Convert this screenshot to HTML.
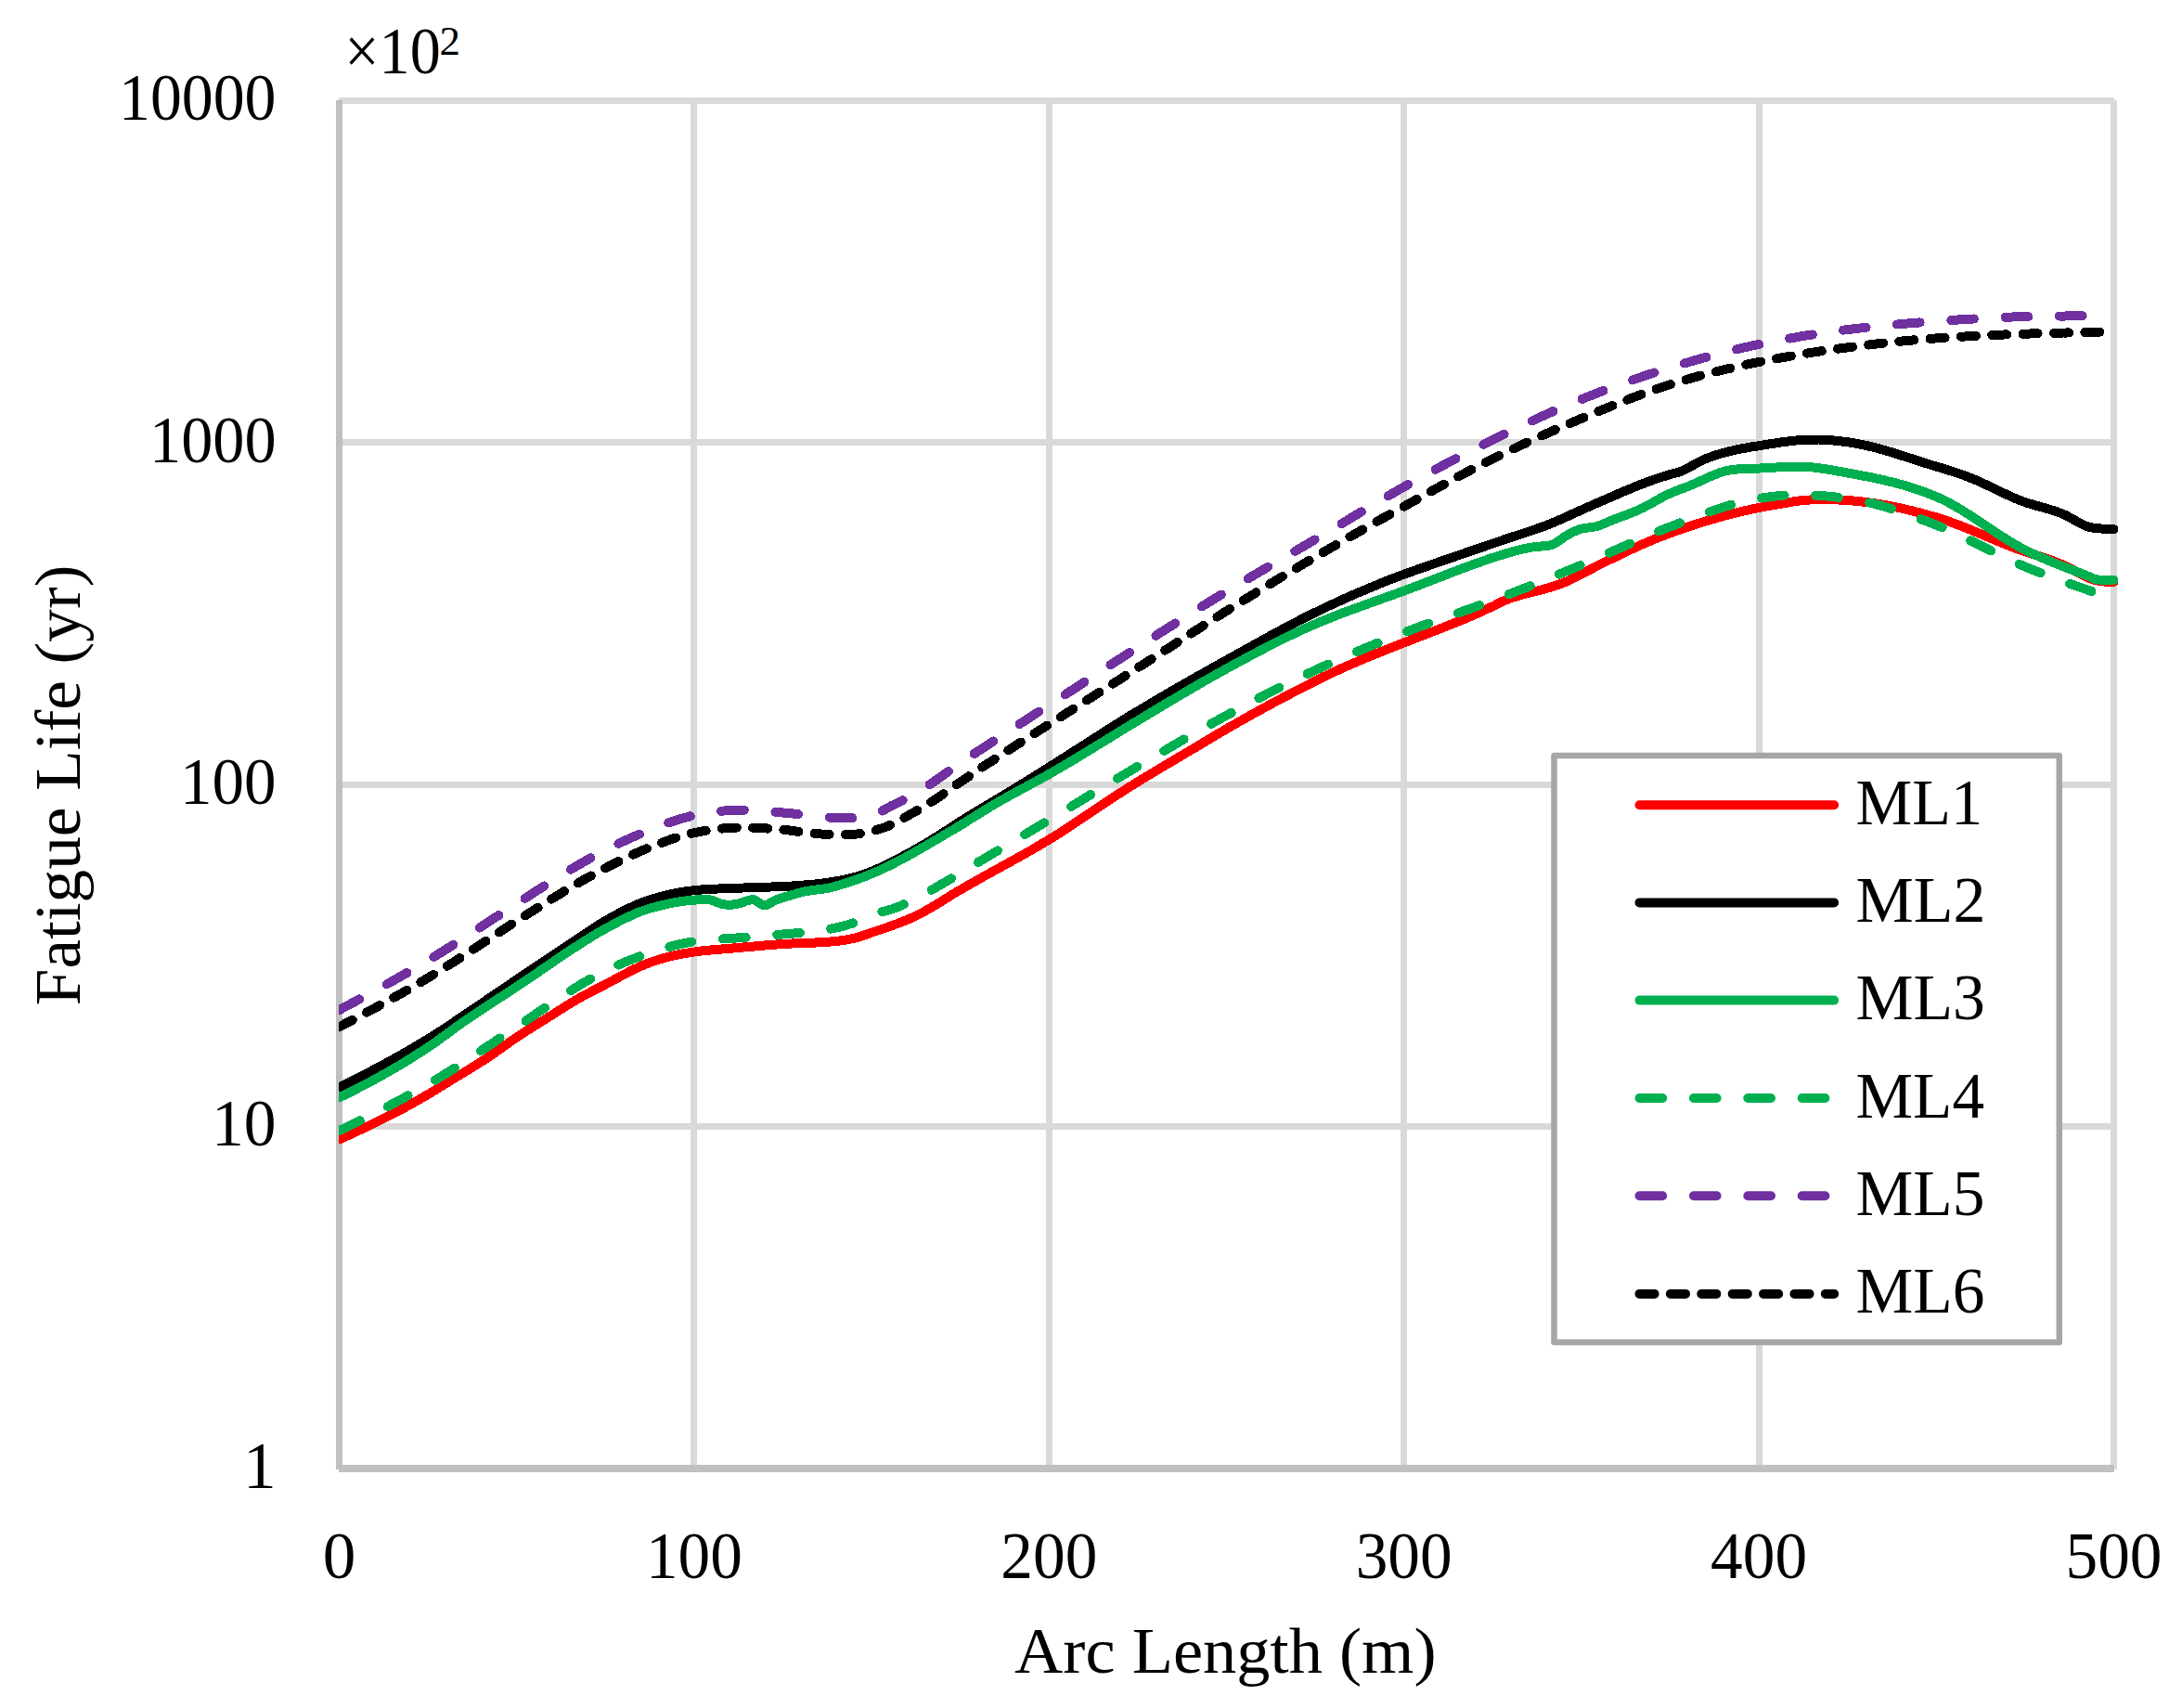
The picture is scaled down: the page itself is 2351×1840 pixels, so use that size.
<!DOCTYPE html>
<html lang="en"><head><meta charset="utf-8"><title>Fatigue Life vs Arc Length</title>
<style>html,body{margin:0;padding:0;background:#fff}body{width:2351px;height:1840px;overflow:hidden}svg{display:block}text{font-family:"Liberation Serif","Times New Roman",serif;fill:#000}</style>
</head><body>
<svg width="2351" height="1840" viewBox="0 0 2351 1840">
<rect width="2351" height="1840" fill="#fff"/>
<g fill="#d9d9d9" shape-rendering="crispEdges">
<rect x="365" y="105.0" width="1913.0" height="7"/>
<rect x="365" y="473.0" width="1913.0" height="7"/>
<rect x="365" y="842.0" width="1913.0" height="7"/>
<rect x="365" y="1210.0" width="1913.0" height="7"/>
<rect x="744.0" y="108" width="7" height="1475.0"/>
<rect x="1127.0" y="108" width="7" height="1475.0"/>
<rect x="1509.0" y="108" width="7" height="1475.0"/>
<rect x="1892.0" y="108" width="7" height="1475.0"/>
<rect x="2274.0" y="108" width="7" height="1475.0"/>
</g>
<g fill="#c0c0c0" shape-rendering="crispEdges">
<rect x="362" y="108" width="7" height="1475"/>
<rect x="365" y="1578" width="1913" height="8"/>
</g>
<defs><clipPath id="pc"><rect x="365" y="100" width="1930" height="1490"/></clipPath></defs>
<g clip-path="url(#pc)" fill="none" stroke-width="10.0" stroke-linecap="round" stroke-linejoin="round" shape-rendering="crispEdges">
<path stroke="#ff0000" d="M365.5 1227.4L368.5 1226.1L371.5 1224.7L374.5 1223.4L377.5 1222.0L380.5 1220.6L383.5 1219.2L386.5 1217.9L389.5 1216.5L392.5 1215.0L395.5 1213.6L398.5 1212.2L401.5 1210.7L404.5 1209.3L407.5 1207.8L410.5 1206.3L413.5 1204.9L416.5 1203.3L419.5 1201.8L422.5 1200.3L425.5 1198.8L428.5 1197.2L431.5 1195.6L434.5 1194.0L437.5 1192.4L440.5 1190.8L443.5 1189.1L446.5 1187.4L449.5 1185.7L452.5 1184.0L455.5 1182.3L458.5 1180.5L461.6 1178.7L464.6 1176.9L467.6 1175.1L470.6 1173.2L473.6 1171.3L476.6 1169.5L479.6 1167.7L482.6 1165.8L485.6 1164.0L488.6 1162.2L491.6 1160.4L494.6 1158.5L497.6 1156.7L500.6 1154.9L503.6 1153.1L506.6 1151.2L509.6 1149.4L512.6 1147.5L515.6 1145.6L518.6 1143.7L521.6 1141.8L524.6 1139.8L527.6 1137.8L530.6 1135.8L533.6 1133.8L536.6 1131.7L539.6 1129.5L542.6 1127.4L545.6 1125.3L548.6 1123.1L551.6 1121.0L554.6 1118.9L557.6 1116.9L560.6 1114.9L563.6 1113.0L566.6 1111.0L569.6 1109.1L572.6 1107.2L575.6 1105.4L578.6 1103.5L581.6 1101.6L584.6 1099.7L587.6 1097.9L590.6 1096.0L593.6 1094.1L596.6 1092.2L599.6 1090.3L602.6 1088.4L605.6 1086.5L608.6 1084.6L611.6 1082.8L614.6 1080.9L617.6 1079.1L620.6 1077.3L623.6 1075.6L626.6 1073.9L629.6 1072.3L632.6 1070.7L635.6 1069.1L638.6 1067.5L641.6 1066.0L644.6 1064.4L647.6 1062.9L650.6 1061.4L653.7 1059.8L656.7 1058.2L659.7 1056.6L662.7 1055.0L665.7 1053.4L668.7 1051.8L671.7 1050.2L674.7 1048.6L677.7 1047.0L680.7 1045.5L683.7 1044.0L686.7 1042.6L689.7 1041.2L692.7 1039.9L695.7 1038.7L698.7 1037.5L701.7 1036.4L704.7 1035.4L707.7 1034.5L710.7 1033.5L713.7 1032.6L716.7 1031.8L719.7 1031.0L722.7 1030.2L725.7 1029.5L728.7 1028.9L731.7 1028.2L734.7 1027.6L737.7 1027.1L740.7 1026.6L743.7 1026.1L746.7 1025.7L749.7 1025.3L752.7 1024.9L755.7 1024.5L758.7 1024.2L761.7 1023.9L764.7 1023.6L767.7 1023.3L770.7 1023.1L773.7 1022.8L776.7 1022.6L779.7 1022.3L782.7 1022.1L785.7 1021.8L788.7 1021.6L791.7 1021.3L794.7 1021.1L797.7 1020.8L800.7 1020.5L803.7 1020.3L806.7 1020.0L809.7 1019.7L812.7 1019.5L815.7 1019.2L818.7 1018.9L821.7 1018.7L824.7 1018.4L827.7 1018.2L830.7 1017.9L833.7 1017.7L836.7 1017.5L839.7 1017.2L842.7 1017.0L845.8 1016.9L848.8 1016.7L851.8 1016.6L854.8 1016.4L857.8 1016.3L860.8 1016.2L863.8 1016.1L866.8 1016.0L869.8 1015.9L872.8 1015.7L875.8 1015.6L878.8 1015.5L881.8 1015.3L884.8 1015.2L887.8 1015.0L890.8 1014.8L893.8 1014.6L896.8 1014.3L899.8 1014.0L902.8 1013.7L905.8 1013.3L908.8 1012.9L911.8 1012.4L914.8 1011.9L917.8 1011.3L920.8 1010.7L923.8 1010.0L926.8 1009.0L929.8 1008.0L932.8 1007.0L935.8 1005.9L938.8 1004.8L941.8 1003.8L944.8 1002.8L947.8 1001.7L950.8 1000.7L953.8 999.7L956.8 998.7L959.8 997.6L962.8 996.5L965.8 995.4L968.8 994.3L971.8 993.1L974.8 991.9L977.8 990.7L980.8 989.4L983.8 988.0L986.8 986.6L989.8 985.1L992.8 983.6L995.8 982.0L998.8 980.3L1001.8 978.6L1004.8 976.8L1007.8 975.0L1010.8 973.2L1013.8 971.4L1016.8 969.5L1019.8 967.7L1022.8 965.8L1025.8 963.9L1028.8 962.1L1031.8 960.3L1034.9 958.5L1037.9 956.8L1040.9 955.0L1043.9 953.3L1046.9 951.6L1049.9 949.9L1052.9 948.2L1055.9 946.5L1058.9 944.8L1061.9 943.1L1064.9 941.5L1067.9 939.8L1070.9 938.2L1073.9 936.5L1076.9 934.9L1079.9 933.2L1082.9 931.6L1085.9 929.9L1088.9 928.3L1091.9 926.6L1094.9 924.9L1097.9 923.3L1100.9 921.6L1103.9 919.9L1106.9 918.2L1109.9 916.5L1112.9 914.8L1115.9 913.0L1118.9 911.3L1121.9 909.5L1124.9 907.7L1127.9 906.0L1130.9 904.1L1133.9 902.3L1136.9 900.4L1139.9 898.6L1142.9 896.7L1145.9 894.7L1148.9 892.8L1151.9 890.9L1154.9 888.9L1157.9 886.9L1160.9 884.9L1163.9 882.9L1166.9 880.9L1169.9 878.9L1172.9 876.9L1175.9 874.9L1178.9 872.9L1181.9 870.9L1184.9 868.9L1187.9 866.9L1190.9 864.9L1193.9 862.9L1196.9 860.9L1199.9 858.9L1202.9 856.9L1205.9 854.9L1208.9 853.0L1211.9 851.0L1214.9 849.1L1217.9 847.2L1220.9 845.3L1223.9 843.4L1227.0 841.6L1230.0 839.7L1233.0 837.9L1236.0 836.1L1239.0 834.3L1242.0 832.5L1245.0 830.7L1248.0 828.9L1251.0 827.1L1254.0 825.3L1257.0 823.5L1260.0 821.8L1263.0 820.0L1266.0 818.2L1269.0 816.4L1272.0 814.7L1275.0 812.9L1278.0 811.1L1281.0 809.3L1284.0 807.5L1287.0 805.8L1290.0 804.0L1293.0 802.2L1296.0 800.4L1299.0 798.6L1302.0 796.8L1305.0 795.0L1308.0 793.2L1311.0 791.4L1314.0 789.7L1317.0 787.9L1320.0 786.2L1323.0 784.4L1326.0 782.7L1329.0 781.0L1332.0 779.3L1335.0 777.6L1338.0 775.9L1341.0 774.2L1344.0 772.5L1347.0 770.8L1350.0 769.1L1353.0 767.5L1356.0 765.8L1359.0 764.2L1362.0 762.6L1365.0 760.9L1368.0 759.3L1371.0 757.7L1374.0 756.1L1377.0 754.5L1380.0 752.9L1383.0 751.3L1386.0 749.8L1389.0 748.2L1392.0 746.6L1395.0 745.1L1398.0 743.5L1401.0 742.0L1404.0 740.4L1407.0 738.9L1410.0 737.4L1413.0 735.8L1416.0 734.3L1419.1 732.8L1422.1 731.3L1425.1 729.8L1428.1 728.3L1431.1 726.9L1434.1 725.4L1437.1 724.0L1440.1 722.6L1443.1 721.2L1446.1 719.8L1449.1 718.5L1452.1 717.2L1455.1 715.9L1458.1 714.6L1461.1 713.3L1464.1 712.0L1467.1 710.7L1470.1 709.5L1473.1 708.2L1476.1 707.0L1479.1 705.8L1482.1 704.6L1485.1 703.3L1488.1 702.1L1491.1 700.9L1494.1 699.8L1497.1 698.6L1500.1 697.4L1503.1 696.2L1506.1 695.0L1509.1 693.8L1512.1 692.6L1515.1 691.5L1518.1 690.3L1521.1 689.1L1524.1 687.9L1527.1 686.8L1530.1 685.6L1533.1 684.5L1536.1 683.3L1539.1 682.2L1542.1 681.0L1545.1 679.9L1548.1 678.7L1551.1 677.5L1554.1 676.4L1557.1 675.2L1560.1 674.0L1563.1 672.8L1566.1 671.6L1569.1 670.4L1572.1 669.2L1575.1 668.0L1578.1 666.7L1581.1 665.4L1584.1 664.2L1587.1 662.9L1590.1 661.6L1593.1 660.2L1596.1 658.9L1599.1 657.5L1602.1 656.1L1605.1 654.7L1608.1 653.3L1611.2 651.8L1614.2 650.2L1617.2 648.7L1620.2 647.3L1623.2 646.1L1626.2 645.0L1629.2 644.0L1632.2 643.0L1635.2 642.1L1638.2 641.2L1641.2 640.4L1644.2 639.6L1647.2 638.9L1650.2 638.1L1653.2 637.4L1656.2 636.6L1659.2 635.8L1662.2 635.0L1665.2 634.2L1668.2 633.3L1671.2 632.4L1674.2 631.5L1677.2 630.5L1680.2 629.4L1683.2 628.3L1686.2 627.1L1689.2 625.8L1692.2 624.4L1695.2 622.9L1698.2 621.3L1701.2 619.7L1704.2 618.1L1707.2 616.6L1710.2 615.1L1713.2 613.6L1716.2 612.1L1719.2 610.5L1722.2 609.0L1725.2 607.5L1728.2 606.0L1731.2 604.5L1734.2 603.0L1737.2 601.6L1740.2 600.1L1743.2 598.6L1746.2 597.2L1749.2 595.8L1752.2 594.3L1755.2 592.9L1758.2 591.5L1761.2 590.2L1764.2 588.8L1767.2 587.5L1770.2 586.1L1773.2 584.8L1776.2 583.5L1779.2 582.3L1782.2 581.0L1785.2 579.8L1788.2 578.6L1791.2 577.4L1794.2 576.3L1797.2 575.1L1800.3 574.0L1803.3 572.9L1806.3 571.9L1809.3 570.8L1812.3 569.8L1815.3 568.7L1818.3 567.7L1821.3 566.7L1824.3 565.7L1827.3 564.8L1830.3 563.8L1833.3 562.9L1836.3 561.9L1839.3 561.0L1842.3 560.1L1845.3 559.2L1848.3 558.4L1851.3 557.5L1854.3 556.7L1857.3 555.9L1860.3 555.1L1863.3 554.3L1866.3 553.5L1869.3 552.8L1872.3 552.0L1875.3 551.3L1878.3 550.6L1881.3 549.9L1884.3 549.3L1887.3 548.6L1890.3 548.0L1893.3 547.4L1896.3 546.8L1899.3 546.2L1902.3 545.6L1905.3 545.1L1908.3 544.6L1911.3 544.1L1914.3 543.6L1917.3 543.0L1920.3 542.5L1923.3 542.0L1926.3 541.5L1929.3 540.9L1932.3 540.4L1935.3 539.9L1938.3 539.5L1941.3 539.1L1944.3 538.8L1947.3 538.6L1950.3 538.5L1953.3 538.4L1956.3 538.3L1959.3 538.2L1962.3 538.2L1965.3 538.2L1968.3 538.2L1971.3 538.2L1974.3 538.3L1977.3 538.4L1980.3 538.5L1983.3 538.6L1986.3 538.8L1989.3 539.0L1992.4 539.2L1995.4 539.4L1998.4 539.7L2001.4 540.0L2004.4 540.3L2007.4 540.6L2010.4 541.0L2013.4 541.4L2016.4 541.8L2019.4 542.2L2022.4 542.7L2025.4 543.2L2028.4 543.7L2031.4 544.2L2034.4 544.7L2037.4 545.3L2040.4 545.9L2043.4 546.5L2046.4 547.1L2049.4 547.8L2052.4 548.5L2055.4 549.2L2058.4 549.9L2061.4 550.6L2064.4 551.4L2067.4 552.1L2070.4 552.9L2073.4 553.7L2076.4 554.6L2079.4 555.4L2082.4 556.3L2085.4 557.1L2088.4 558.0L2091.4 559.0L2094.4 559.9L2097.4 560.9L2100.4 562.0L2103.4 563.1L2106.4 564.2L2109.4 565.3L2112.4 566.4L2115.4 567.6L2118.4 568.8L2121.4 570.0L2124.4 571.2L2127.4 572.5L2130.4 573.7L2133.4 574.9L2136.4 576.2L2139.4 577.5L2142.4 578.7L2145.4 580.0L2148.4 581.2L2151.4 582.5L2154.4 583.7L2157.4 585.0L2160.4 586.2L2163.4 587.4L2166.4 588.6L2169.4 589.7L2172.4 590.9L2175.4 592.0L2178.4 593.1L2181.4 594.1L2184.5 595.2L2187.5 596.2L2190.5 597.1L2193.5 598.1L2196.5 599.1L2199.5 600.0L2202.5 601.0L2205.5 602.0L2208.5 603.0L2211.5 604.1L2214.5 605.2L2217.5 606.3L2220.5 607.6L2223.5 608.9L2226.5 610.3L2229.5 611.8L2232.5 613.4L2235.5 615.0L2238.5 616.7L2241.5 618.2L2244.5 619.7L2247.5 621.1L2250.5 622.5L2253.5 623.8L2256.5 624.7L2259.5 625.4L2262.5 625.9L2265.5 626.3L2268.5 626.6L2271.5 626.8L2274.5 626.9L2277.5 626.9"/>
<path stroke="#000000" d="M365.5 1171.3L368.5 1169.8L371.5 1168.4L374.5 1166.9L377.5 1165.4L380.5 1163.9L383.5 1162.4L386.5 1160.9L389.5 1159.3L392.5 1157.8L395.5 1156.3L398.5 1154.7L401.5 1153.1L404.5 1151.5L407.5 1149.9L410.5 1148.3L413.5 1146.7L416.5 1145.1L419.5 1143.4L422.5 1141.8L425.5 1140.1L428.5 1138.4L431.5 1136.7L434.5 1135.0L437.5 1133.3L440.5 1131.6L443.5 1129.8L446.5 1128.0L449.5 1126.3L452.5 1124.5L455.5 1122.7L458.5 1120.9L461.6 1119.0L464.6 1117.2L467.6 1115.3L470.6 1113.4L473.6 1111.4L476.6 1109.5L479.6 1107.5L482.6 1105.5L485.6 1103.5L488.6 1101.5L491.6 1099.4L494.6 1097.4L497.6 1095.4L500.6 1093.4L503.6 1091.4L506.6 1089.3L509.6 1087.3L512.6 1085.3L515.6 1083.2L518.6 1081.2L521.6 1079.2L524.6 1077.1L527.6 1075.1L530.6 1073.0L533.6 1071.0L536.6 1068.9L539.6 1066.9L542.6 1064.9L545.6 1062.8L548.6 1060.8L551.6 1058.8L554.6 1056.7L557.6 1054.7L560.6 1052.7L563.6 1050.7L566.6 1048.7L569.6 1046.7L572.6 1044.6L575.6 1042.6L578.6 1040.6L581.6 1038.6L584.6 1036.6L587.6 1034.6L590.6 1032.6L593.6 1030.6L596.6 1028.6L599.6 1026.7L602.6 1024.7L605.6 1022.7L608.6 1020.7L611.6 1018.7L614.6 1016.7L617.6 1014.7L620.6 1012.7L623.6 1010.7L626.6 1008.6L629.6 1006.6L632.6 1004.5L635.6 1002.5L638.6 1000.5L641.6 998.6L644.6 996.6L647.6 994.8L650.6 993.0L653.7 991.2L656.7 989.5L659.7 987.8L662.7 986.2L665.7 984.5L668.7 982.9L671.7 981.4L674.7 979.9L677.7 978.4L680.7 977.0L683.7 975.7L686.7 974.4L689.7 973.1L692.7 972.0L695.7 970.9L698.7 969.9L701.7 968.9L704.7 968.0L707.7 967.1L710.7 966.3L713.7 965.5L716.7 964.7L719.7 964.0L722.7 963.3L725.7 962.6L728.7 962.0L731.7 961.5L734.7 960.9L737.7 960.5L740.7 960.0L743.7 959.7L746.7 959.3L749.7 959.0L752.7 958.8L755.7 958.5L758.7 958.3L761.7 958.1L764.7 957.9L767.7 957.8L770.7 957.6L773.7 957.5L776.7 957.4L779.7 957.3L782.7 957.2L785.7 957.0L788.7 956.9L791.7 956.8L794.7 956.7L797.7 956.6L800.7 956.5L803.7 956.4L806.7 956.3L809.7 956.2L812.7 956.1L815.7 956.0L818.7 956.0L821.7 955.9L824.7 955.8L827.7 955.6L830.7 955.5L833.7 955.4L836.7 955.3L839.7 955.2L842.7 955.0L845.8 954.9L848.8 954.7L851.8 954.6L854.8 954.4L857.8 954.2L860.8 954.0L863.8 953.8L866.8 953.5L869.8 953.3L872.8 953.0L875.8 952.7L878.8 952.4L881.8 952.0L884.8 951.7L887.8 951.3L890.8 950.9L893.8 950.4L896.8 950.0L899.8 949.5L902.8 948.9L905.8 948.4L908.8 947.8L911.8 947.2L914.8 946.5L917.8 945.8L920.8 945.1L923.8 944.3L926.8 943.3L929.8 942.3L932.8 941.2L935.8 940.0L938.8 938.8L941.8 937.6L944.8 936.3L947.8 935.0L950.8 933.6L953.8 932.1L956.8 930.7L959.8 929.2L962.8 927.7L965.8 926.2L968.8 924.6L971.8 923.0L974.8 921.4L977.8 919.7L980.8 918.1L983.8 916.4L986.8 914.8L989.8 913.0L992.8 911.3L995.8 909.6L998.8 907.8L1001.8 906.0L1004.8 904.2L1007.8 902.3L1010.8 900.4L1013.8 898.5L1016.8 896.6L1019.8 894.7L1022.8 892.8L1025.8 890.8L1028.8 888.8L1031.8 886.8L1034.9 884.9L1037.9 883.0L1040.9 881.1L1043.9 879.3L1046.9 877.5L1049.9 875.7L1052.9 873.9L1055.9 872.1L1058.9 870.3L1061.9 868.5L1064.9 866.7L1067.9 864.9L1070.9 863.1L1073.9 861.3L1076.9 859.5L1079.9 857.7L1082.9 855.8L1085.9 854.0L1088.9 852.2L1091.9 850.3L1094.9 848.5L1097.9 846.7L1100.9 844.8L1103.9 843.0L1106.9 841.1L1109.9 839.2L1112.9 837.4L1115.9 835.5L1118.9 833.6L1121.9 831.8L1124.9 829.9L1127.9 828.0L1130.9 826.1L1133.9 824.2L1136.9 822.3L1139.9 820.4L1142.9 818.5L1145.9 816.6L1148.9 814.7L1151.9 812.8L1154.9 810.9L1157.9 808.9L1160.9 807.0L1163.9 805.1L1166.9 803.2L1169.9 801.3L1172.9 799.3L1175.9 797.4L1178.9 795.5L1181.9 793.6L1184.9 791.7L1187.9 789.7L1190.9 787.8L1193.9 785.9L1196.9 784.0L1199.9 782.1L1202.9 780.3L1205.9 778.4L1208.9 776.5L1211.9 774.6L1214.9 772.8L1217.9 770.9L1220.9 769.1L1223.9 767.3L1227.0 765.5L1230.0 763.7L1233.0 761.9L1236.0 760.1L1239.0 758.3L1242.0 756.5L1245.0 754.7L1248.0 753.0L1251.0 751.2L1254.0 749.5L1257.0 747.7L1260.0 746.0L1263.0 744.2L1266.0 742.5L1269.0 740.8L1272.0 739.1L1275.0 737.4L1278.0 735.6L1281.0 733.9L1284.0 732.2L1287.0 730.5L1290.0 728.8L1293.0 727.2L1296.0 725.5L1299.0 723.8L1302.0 722.1L1305.0 720.4L1308.0 718.7L1311.0 717.1L1314.0 715.4L1317.0 713.7L1320.0 712.0L1323.0 710.4L1326.0 708.7L1329.0 707.0L1332.0 705.3L1335.0 703.7L1338.0 702.0L1341.0 700.3L1344.0 698.6L1347.0 697.0L1350.0 695.3L1353.0 693.6L1356.0 692.0L1359.0 690.3L1362.0 688.7L1365.0 687.0L1368.0 685.4L1371.0 683.7L1374.0 682.1L1377.0 680.5L1380.0 678.9L1383.0 677.2L1386.0 675.7L1389.0 674.1L1392.0 672.5L1395.0 670.9L1398.0 669.4L1401.0 667.8L1404.0 666.3L1407.0 664.8L1410.0 663.3L1413.0 661.8L1416.0 660.3L1419.1 658.9L1422.1 657.4L1425.1 656.0L1428.1 654.5L1431.1 653.1L1434.1 651.7L1437.1 650.3L1440.1 648.9L1443.1 647.6L1446.1 646.2L1449.1 644.8L1452.1 643.5L1455.1 642.2L1458.1 640.8L1461.1 639.5L1464.1 638.2L1467.1 636.9L1470.1 635.7L1473.1 634.4L1476.1 633.1L1479.1 631.9L1482.1 630.7L1485.1 629.4L1488.1 628.2L1491.1 627.0L1494.1 625.8L1497.1 624.6L1500.1 623.5L1503.1 622.3L1506.1 621.2L1509.1 620.0L1512.1 618.9L1515.1 617.8L1518.1 616.8L1521.1 615.7L1524.1 614.6L1527.1 613.6L1530.1 612.5L1533.1 611.5L1536.1 610.4L1539.1 609.4L1542.1 608.3L1545.1 607.3L1548.1 606.3L1551.1 605.2L1554.1 604.2L1557.1 603.1L1560.1 602.1L1563.1 601.1L1566.1 600.1L1569.1 599.0L1572.1 598.0L1575.1 597.0L1578.1 595.9L1581.1 594.9L1584.1 593.9L1587.1 592.9L1590.1 591.8L1593.1 590.8L1596.1 589.8L1599.1 588.7L1602.1 587.7L1605.1 586.7L1608.1 585.7L1611.2 584.6L1614.2 583.6L1617.2 582.6L1620.2 581.5L1623.2 580.5L1626.2 579.5L1629.2 578.5L1632.2 577.6L1635.2 576.6L1638.2 575.6L1641.2 574.6L1644.2 573.6L1647.2 572.6L1650.2 571.6L1653.2 570.6L1656.2 569.5L1659.2 568.5L1662.2 567.4L1665.2 566.3L1668.2 565.1L1671.2 563.9L1674.2 562.7L1677.2 561.4L1680.2 560.1L1683.2 558.8L1686.2 557.5L1689.2 556.1L1692.2 554.7L1695.2 553.3L1698.2 552.0L1701.2 550.6L1704.2 549.3L1707.2 547.9L1710.2 546.6L1713.2 545.3L1716.2 543.9L1719.2 542.6L1722.2 541.3L1725.2 540.0L1728.2 538.7L1731.2 537.4L1734.2 536.1L1737.2 534.8L1740.2 533.5L1743.2 532.2L1746.2 530.9L1749.2 529.6L1752.2 528.4L1755.2 527.1L1758.2 525.9L1761.2 524.6L1764.2 523.4L1767.2 522.2L1770.2 521.1L1773.2 519.9L1776.2 518.8L1779.2 517.7L1782.2 516.6L1785.2 515.6L1788.2 514.6L1791.2 513.6L1794.2 512.7L1797.2 511.8L1800.3 510.9L1803.3 510.1L1806.3 509.3L1809.3 508.4L1812.3 507.3L1815.3 505.9L1818.3 504.4L1821.3 502.8L1824.3 501.1L1827.3 499.4L1830.3 497.8L1833.3 496.3L1836.3 495.0L1839.3 493.7L1842.3 492.6L1845.3 491.5L1848.3 490.5L1851.3 489.5L1854.3 488.6L1857.3 487.8L1860.3 487.0L1863.3 486.2L1866.3 485.5L1869.3 484.8L1872.3 484.2L1875.3 483.6L1878.3 483.0L1881.3 482.5L1884.3 481.9L1887.3 481.4L1890.3 481.0L1893.3 480.5L1896.3 480.0L1899.3 479.5L1902.3 479.1L1905.3 478.6L1908.3 478.1L1911.3 477.7L1914.3 477.2L1917.3 476.7L1920.3 476.3L1923.3 475.9L1926.3 475.5L1929.3 475.1L1932.3 474.8L1935.3 474.5L1938.3 474.2L1941.3 474.0L1944.3 473.8L1947.3 473.6L1950.3 473.5L1953.3 473.5L1956.3 473.5L1959.3 473.5L1962.3 473.6L1965.3 473.8L1968.3 474.0L1971.3 474.2L1974.3 474.4L1977.3 474.7L1980.3 475.0L1983.3 475.4L1986.3 475.7L1989.3 476.1L1992.4 476.5L1995.4 477.0L1998.4 477.5L2001.4 478.0L2004.4 478.6L2007.4 479.2L2010.4 479.9L2013.4 480.6L2016.4 481.3L2019.4 482.1L2022.4 482.8L2025.4 483.6L2028.4 484.5L2031.4 485.3L2034.4 486.2L2037.4 487.1L2040.4 488.0L2043.4 489.0L2046.4 489.9L2049.4 490.9L2052.4 491.8L2055.4 492.8L2058.4 493.7L2061.4 494.7L2064.4 495.7L2067.4 496.7L2070.4 497.6L2073.4 498.6L2076.4 499.5L2079.4 500.5L2082.4 501.4L2085.4 502.3L2088.4 503.2L2091.4 504.1L2094.4 505.0L2097.4 505.9L2100.4 506.9L2103.4 507.8L2106.4 508.8L2109.4 509.7L2112.4 510.8L2115.4 511.8L2118.4 512.9L2121.4 514.1L2124.4 515.3L2127.4 516.5L2130.4 517.8L2133.4 519.2L2136.4 520.6L2139.4 522.0L2142.4 523.4L2145.4 524.8L2148.4 526.3L2151.4 527.7L2154.4 529.2L2157.4 530.6L2160.4 532.0L2163.4 533.4L2166.4 534.8L2169.4 536.1L2172.4 537.4L2175.4 538.6L2178.4 539.7L2181.4 540.8L2184.5 541.9L2187.5 542.8L2190.5 543.7L2193.5 544.6L2196.5 545.4L2199.5 546.3L2202.5 547.1L2205.5 548.0L2208.5 548.8L2211.5 549.8L2214.5 550.7L2217.5 551.8L2220.5 552.9L2223.5 554.2L2226.5 555.5L2229.5 557.1L2232.5 558.8L2235.5 560.5L2238.5 562.3L2241.5 563.9L2244.5 565.4L2247.5 566.7L2250.5 567.6L2253.5 568.3L2256.5 568.8L2259.5 569.1L2262.5 569.4L2265.5 569.6L2268.5 569.8L2271.5 570.0L2274.5 570.1L2277.5 570.2"/>
<path stroke="#00b050" d="M365.5 1182.4L368.5 1180.9L371.5 1179.5L374.5 1178.0L377.5 1176.5L380.5 1175.0L383.5 1173.5L386.5 1171.9L389.5 1170.4L392.5 1168.8L395.5 1167.3L398.5 1165.7L401.5 1164.0L404.5 1162.4L407.5 1160.8L410.5 1159.1L413.5 1157.4L416.5 1155.7L419.5 1154.0L422.5 1152.3L425.5 1150.5L428.5 1148.8L431.5 1147.0L434.5 1145.2L437.5 1143.3L440.5 1141.5L443.5 1139.6L446.5 1137.7L449.5 1135.8L452.5 1133.9L455.5 1132.0L458.5 1130.0L461.6 1128.0L464.6 1126.0L467.6 1123.9L470.6 1121.8L473.6 1119.6L476.6 1117.4L479.6 1115.2L482.6 1113.0L485.6 1110.8L488.6 1108.6L491.6 1106.4L494.6 1104.2L497.6 1102.1L500.6 1100.0L503.6 1097.9L506.6 1095.8L509.6 1093.8L512.6 1091.8L515.6 1089.8L518.6 1087.8L521.6 1085.8L524.6 1083.9L527.6 1081.9L530.6 1080.0L533.6 1078.0L536.6 1076.1L539.6 1074.1L542.6 1072.2L545.6 1070.3L548.6 1068.3L551.6 1066.3L554.6 1064.4L557.6 1062.4L560.6 1060.4L563.6 1058.4L566.6 1056.4L569.6 1054.3L572.6 1052.3L575.6 1050.2L578.6 1048.2L581.6 1046.1L584.6 1044.0L587.6 1042.0L590.6 1039.9L593.6 1037.8L596.6 1035.8L599.6 1033.7L602.6 1031.7L605.6 1029.7L608.6 1027.7L611.6 1025.7L614.6 1023.7L617.6 1021.7L620.6 1019.8L623.6 1017.9L626.6 1015.9L629.6 1014.0L632.6 1012.1L635.6 1010.3L638.6 1008.4L641.6 1006.6L644.6 1004.8L647.6 1003.1L650.6 1001.4L653.7 999.8L656.7 998.1L659.7 996.5L662.7 994.9L665.7 993.3L668.7 991.8L671.7 990.3L674.7 988.8L677.7 987.4L680.7 986.0L683.7 984.7L686.7 983.4L689.7 982.2L692.7 981.1L695.7 980.1L698.7 979.1L701.7 978.2L704.7 977.4L707.7 976.6L710.7 975.8L713.7 975.1L716.7 974.4L719.7 973.7L722.7 973.1L725.7 972.5L728.7 972.0L731.7 971.5L734.7 971.0L737.7 970.6L740.7 970.3L743.7 970.0L746.7 969.7L749.7 969.5L752.7 969.3L755.7 969.1L758.7 969.1L761.7 969.2L764.7 969.4L767.7 970.1L770.7 971.2L773.7 972.5L776.7 973.6L779.7 974.3L782.7 974.6L785.7 974.7L788.7 974.6L791.7 974.3L794.7 973.8L797.7 973.0L800.7 971.9L803.7 970.8L806.7 969.8L809.7 969.2L812.7 969.4L815.7 971.0L818.7 973.2L821.7 975.0L824.7 975.3L827.7 974.2L830.7 972.4L833.7 970.7L836.7 969.3L839.7 968.2L842.7 967.2L845.8 966.3L848.8 965.4L851.8 964.5L854.8 963.6L857.8 962.8L860.8 961.9L863.8 961.2L866.8 960.5L869.8 959.9L872.8 959.4L875.8 959.0L878.8 958.6L881.8 958.3L884.8 957.9L887.8 957.5L890.8 957.0L893.8 956.4L896.8 955.7L899.8 954.9L902.8 954.0L905.8 953.1L908.8 952.2L911.8 951.2L914.8 950.2L917.8 949.2L920.8 948.2L923.8 947.2L926.8 946.1L929.8 945.0L932.8 943.8L935.8 942.6L938.8 941.4L941.8 940.2L944.8 938.9L947.8 937.5L950.8 936.1L953.8 934.7L956.8 933.3L959.8 931.8L962.8 930.3L965.8 928.7L968.8 927.2L971.8 925.6L974.8 924.0L977.8 922.3L980.8 920.7L983.8 919.0L986.8 917.3L989.8 915.6L992.8 913.9L995.8 912.1L998.8 910.4L1001.8 908.6L1004.8 906.9L1007.8 905.1L1010.8 903.4L1013.8 901.6L1016.8 899.9L1019.8 898.1L1022.8 896.3L1025.8 894.6L1028.8 892.8L1031.8 890.9L1034.9 889.1L1037.9 887.3L1040.9 885.4L1043.9 883.5L1046.9 881.6L1049.9 879.8L1052.9 877.9L1055.9 876.0L1058.9 874.1L1061.9 872.3L1064.9 870.4L1067.9 868.6L1070.9 866.8L1073.9 865.1L1076.9 863.3L1079.9 861.6L1082.9 859.9L1085.9 858.3L1088.9 856.6L1091.9 855.0L1094.9 853.3L1097.9 851.7L1100.9 850.1L1103.9 848.5L1106.9 846.8L1109.9 845.2L1112.9 843.6L1115.9 842.0L1118.9 840.3L1121.9 838.7L1124.9 837.0L1127.9 835.4L1130.9 833.7L1133.9 832.0L1136.9 830.2L1139.9 828.5L1142.9 826.7L1145.9 825.0L1148.9 823.2L1151.9 821.4L1154.9 819.7L1157.9 817.9L1160.9 816.1L1163.9 814.2L1166.9 812.4L1169.9 810.6L1172.9 808.8L1175.9 806.9L1178.9 805.1L1181.9 803.2L1184.9 801.4L1187.9 799.6L1190.9 797.7L1193.9 795.9L1196.9 794.0L1199.9 792.2L1202.9 790.3L1205.9 788.5L1208.9 786.6L1211.9 784.8L1214.9 783.0L1217.9 781.1L1220.9 779.3L1223.9 777.5L1227.0 775.7L1230.0 773.9L1233.0 772.0L1236.0 770.2L1239.0 768.4L1242.0 766.6L1245.0 764.8L1248.0 763.0L1251.0 761.2L1254.0 759.4L1257.0 757.6L1260.0 755.8L1263.0 754.0L1266.0 752.3L1269.0 750.5L1272.0 748.7L1275.0 746.9L1278.0 745.2L1281.0 743.4L1284.0 741.7L1287.0 739.9L1290.0 738.2L1293.0 736.4L1296.0 734.7L1299.0 733.0L1302.0 731.3L1305.0 729.6L1308.0 727.9L1311.0 726.2L1314.0 724.5L1317.0 722.9L1320.0 721.2L1323.0 719.6L1326.0 717.9L1329.0 716.3L1332.0 714.7L1335.0 713.0L1338.0 711.4L1341.0 709.8L1344.0 708.2L1347.0 706.6L1350.0 705.0L1353.0 703.4L1356.0 701.8L1359.0 700.2L1362.0 698.7L1365.0 697.1L1368.0 695.6L1371.0 694.0L1374.0 692.5L1377.0 691.0L1380.0 689.5L1383.0 688.0L1386.0 686.6L1389.0 685.1L1392.0 683.7L1395.0 682.3L1398.0 680.8L1401.0 679.5L1404.0 678.1L1407.0 676.7L1410.0 675.4L1413.0 674.1L1416.0 672.8L1419.1 671.5L1422.1 670.2L1425.1 669.0L1428.1 667.7L1431.1 666.5L1434.1 665.3L1437.1 664.1L1440.1 663.0L1443.1 661.8L1446.1 660.6L1449.1 659.5L1452.1 658.4L1455.1 657.3L1458.1 656.2L1461.1 655.1L1464.1 654.0L1467.1 652.9L1470.1 651.8L1473.1 650.7L1476.1 649.7L1479.1 648.6L1482.1 647.5L1485.1 646.4L1488.1 645.4L1491.1 644.3L1494.1 643.2L1497.1 642.2L1500.1 641.1L1503.1 640.0L1506.1 638.9L1509.1 637.8L1512.1 636.7L1515.1 635.6L1518.1 634.5L1521.1 633.4L1524.1 632.2L1527.1 631.1L1530.1 629.9L1533.1 628.8L1536.1 627.6L1539.1 626.5L1542.1 625.3L1545.1 624.2L1548.1 623.0L1551.1 621.8L1554.1 620.7L1557.1 619.5L1560.1 618.3L1563.1 617.2L1566.1 616.0L1569.1 614.9L1572.1 613.8L1575.1 612.6L1578.1 611.5L1581.1 610.4L1584.1 609.3L1587.1 608.2L1590.1 607.1L1593.1 606.1L1596.1 605.0L1599.1 604.0L1602.1 602.9L1605.1 601.9L1608.1 600.9L1611.2 600.0L1614.2 599.0L1617.2 598.0L1620.2 597.1L1623.2 596.2L1626.2 595.3L1629.2 594.4L1632.2 593.6L1635.2 592.8L1638.2 592.0L1641.2 591.4L1644.2 590.7L1647.2 590.1L1650.2 589.6L1653.2 589.2L1656.2 588.8L1659.2 588.6L1662.2 588.4L1665.2 588.2L1668.2 587.8L1671.2 587.2L1674.2 586.0L1677.2 584.3L1680.2 582.2L1683.2 580.1L1686.2 578.0L1689.2 576.2L1692.2 574.5L1695.2 573.0L1698.2 571.6L1701.2 570.5L1704.2 569.6L1707.2 569.0L1710.2 568.6L1713.2 568.2L1716.2 567.8L1719.2 567.3L1722.2 566.5L1725.2 565.4L1728.2 564.2L1731.2 562.9L1734.2 561.6L1737.2 560.3L1740.2 559.1L1743.2 558.0L1746.2 556.9L1749.2 555.8L1752.2 554.7L1755.2 553.5L1758.2 552.4L1761.2 551.2L1764.2 549.9L1767.2 548.5L1770.2 547.1L1773.2 545.5L1776.2 543.9L1779.2 542.3L1782.2 540.6L1785.2 538.9L1788.2 537.2L1791.2 535.6L1794.2 534.0L1797.2 532.5L1800.3 531.2L1803.3 529.9L1806.3 528.7L1809.3 527.5L1812.3 526.4L1815.3 525.3L1818.3 524.2L1821.3 523.0L1824.3 521.7L1827.3 520.4L1830.3 519.1L1833.3 517.7L1836.3 516.3L1839.3 514.9L1842.3 513.5L1845.3 512.2L1848.3 511.0L1851.3 509.8L1854.3 508.8L1857.3 507.9L1860.3 507.1L1863.3 506.5L1866.3 506.0L1869.3 505.7L1872.3 505.4L1875.3 505.2L1878.3 505.0L1881.3 504.9L1884.3 504.8L1887.3 504.7L1890.3 504.6L1893.3 504.6L1896.3 504.5L1899.3 504.3L1902.3 504.2L1905.3 504.0L1908.3 503.8L1911.3 503.6L1914.3 503.5L1917.3 503.3L1920.3 503.1L1923.3 503.0L1926.3 502.8L1929.3 502.7L1932.3 502.6L1935.3 502.6L1938.3 502.6L1941.3 502.6L1944.3 502.8L1947.3 502.9L1950.3 503.2L1953.3 503.5L1956.3 503.8L1959.3 504.2L1962.3 504.6L1965.3 505.0L1968.3 505.5L1971.3 506.0L1974.3 506.5L1977.3 507.1L1980.3 507.6L1983.3 508.2L1986.3 508.7L1989.3 509.3L1992.4 509.8L1995.4 510.3L1998.4 510.9L2001.4 511.4L2004.4 512.0L2007.4 512.6L2010.4 513.1L2013.4 513.7L2016.4 514.3L2019.4 515.0L2022.4 515.6L2025.4 516.3L2028.4 516.9L2031.4 517.6L2034.4 518.4L2037.4 519.1L2040.4 519.8L2043.4 520.6L2046.4 521.4L2049.4 522.3L2052.4 523.1L2055.4 524.0L2058.4 524.9L2061.4 525.9L2064.4 526.9L2067.4 527.9L2070.4 528.9L2073.4 530.0L2076.4 531.1L2079.4 532.3L2082.4 533.5L2085.4 534.7L2088.4 536.0L2091.4 537.4L2094.4 538.8L2097.4 540.3L2100.4 541.9L2103.4 543.5L2106.4 545.2L2109.4 547.0L2112.4 548.8L2115.4 550.6L2118.4 552.5L2121.4 554.4L2124.4 556.3L2127.4 558.3L2130.4 560.3L2133.4 562.3L2136.4 564.3L2139.4 566.3L2142.4 568.3L2145.4 570.3L2148.4 572.3L2151.4 574.3L2154.4 576.2L2157.4 578.1L2160.4 580.1L2163.4 581.9L2166.4 583.8L2169.4 585.5L2172.4 587.3L2175.4 589.0L2178.4 590.6L2181.4 592.2L2184.5 593.7L2187.5 595.1L2190.5 596.6L2193.5 598.0L2196.5 599.3L2199.5 600.6L2202.5 601.9L2205.5 603.2L2208.5 604.5L2211.5 605.7L2214.5 606.9L2217.5 608.1L2220.5 609.3L2223.5 610.4L2226.5 611.6L2229.5 612.7L2232.5 613.9L2235.5 615.0L2238.5 616.2L2241.5 617.3L2244.5 618.5L2247.5 619.7L2250.5 620.9L2253.5 622.3L2256.5 623.6L2259.5 624.3L2262.5 624.7L2265.5 625.0L2268.5 625.1L2271.5 625.1L2274.5 625.0L2277.5 624.9"/>
<path stroke="#00b050" stroke-dasharray="24.7 33.7" stroke-dashoffset="0.0" d="M365.5 1218.0L368.5 1216.6L371.5 1215.1L374.5 1213.7L377.5 1212.2L380.5 1210.8L383.5 1209.3L386.5 1207.9L389.5 1206.4L392.5 1204.9L395.5 1203.4L398.6 1201.9L401.6 1200.4L404.6 1198.8L407.6 1197.3L410.6 1195.8L413.6 1194.2L416.6 1192.7L419.6 1191.1L422.6 1189.5L425.6 1187.9L428.6 1186.3L431.6 1184.7L434.6 1183.1L437.6 1181.4L440.6 1179.8L443.6 1178.1L446.6 1176.4L449.6 1174.8L452.6 1173.1L455.6 1171.3L458.6 1169.6L461.6 1167.9L464.7 1166.1L467.7 1164.4L470.7 1162.6L473.7 1160.7L476.7 1158.9L479.7 1157.0L482.7 1155.2L485.7 1153.3L488.7 1151.4L491.7 1149.5L494.7 1147.5L497.7 1145.6L500.7 1143.6L503.7 1141.7L506.7 1139.7L509.7 1137.7L512.7 1135.7L515.7 1133.7L518.7 1131.7L521.7 1129.7L524.7 1127.7L527.7 1125.7L530.8 1123.7L533.8 1121.7L536.8 1119.6L539.8 1117.6L542.8 1115.6L545.8 1113.6L548.8 1111.6L551.8 1109.6L554.8 1107.6L557.8 1105.6L560.8 1103.6L563.8 1101.5L566.8 1099.5L569.8 1097.5L572.8 1095.4L575.8 1093.4L578.8 1091.3L581.8 1089.3L584.8 1087.2L587.8 1085.2L590.8 1083.2L593.8 1081.1L596.9 1079.1L599.9 1077.1L602.9 1075.1L605.9 1073.1L608.9 1071.2L611.9 1069.2L614.9 1067.3L617.9 1065.4L620.9 1063.6L623.9 1061.7L626.9 1059.9L629.9 1058.1L632.9 1056.4L635.9 1054.7L638.9 1053.0L641.9 1051.3L644.9 1049.7L647.9 1048.2L650.9 1046.7L653.9 1045.2L656.9 1043.8L659.9 1042.4L663.0 1041.0L666.0 1039.7L669.0 1038.4L672.0 1037.1L675.0 1035.8L678.0 1034.6L681.0 1033.4L684.0 1032.3L687.0 1031.2L690.0 1030.1L693.0 1029.0L696.0 1028.0L699.0 1027.0L702.0 1026.0L705.0 1025.0L708.0 1024.0L711.0 1023.1L714.0 1022.2L717.0 1021.3L720.0 1020.4L723.0 1019.5L726.0 1018.7L729.1 1018.0L732.1 1017.2L735.1 1016.5L738.1 1015.9L741.1 1015.3L744.1 1014.8L747.1 1014.3L750.1 1013.9L753.1 1013.5L756.1 1013.2L759.1 1012.9L762.1 1012.6L765.1 1012.4L768.1 1012.1L771.1 1011.9L774.1 1011.7L777.1 1011.5L780.1 1011.3L783.1 1011.1L786.1 1010.9L789.1 1010.7L792.1 1010.6L795.2 1010.3L798.2 1010.1L801.2 1009.9L804.2 1009.7L807.2 1009.4L810.2 1009.2L813.2 1009.0L816.2 1008.7L819.2 1008.5L822.2 1008.3L825.2 1008.0L828.2 1007.8L831.2 1007.5L834.2 1007.3L837.2 1007.0L840.2 1006.8L843.2 1006.5L846.2 1006.3L849.2 1006.0L852.2 1005.8L855.2 1005.5L858.2 1005.3L861.3 1005.0L864.3 1004.8L867.3 1004.5L870.3 1004.2L873.3 1003.9L876.3 1003.5L879.3 1003.1L882.3 1002.8L885.3 1002.3L888.3 1001.9L891.3 1001.4L894.3 1000.8L897.3 1000.2L900.3 999.6L903.3 998.9L906.3 998.2L909.3 997.4L912.3 996.5L915.3 995.6L918.3 994.7L921.3 993.6L924.4 992.3L927.4 990.9L930.4 989.4L933.4 988.0L936.4 986.6L939.4 985.4L942.4 984.4L945.4 983.5L948.4 982.7L951.4 981.9L954.4 981.2L957.4 980.4L960.4 979.5L963.4 978.5L966.4 977.4L969.4 976.2L972.4 974.9L975.4 973.6L978.4 972.2L981.4 970.8L984.4 969.3L987.4 967.7L990.5 966.1L993.5 964.5L996.5 962.8L999.5 961.1L1002.5 959.4L1005.5 957.7L1008.5 956.0L1011.5 954.3L1014.5 952.5L1017.5 950.8L1020.5 949.0L1023.5 947.2L1026.5 945.4L1029.5 943.5L1032.5 941.7L1035.5 939.9L1038.5 938.1L1041.5 936.3L1044.5 934.5L1047.5 932.7L1050.5 930.9L1053.5 929.1L1056.6 927.3L1059.6 925.6L1062.6 923.8L1065.6 922.0L1068.6 920.2L1071.6 918.4L1074.6 916.6L1077.6 914.8L1080.6 913.0L1083.6 911.2L1086.6 909.4L1089.6 907.6L1092.6 905.9L1095.6 904.1L1098.6 902.3L1101.6 900.5L1104.6 898.7L1107.6 896.9L1110.6 895.1L1113.6 893.3L1116.6 891.5L1119.6 889.7L1122.7 887.9L1125.7 886.1L1128.7 884.3L1131.7 882.5L1134.7 880.7L1137.7 878.9L1140.7 877.0L1143.7 875.2L1146.7 873.4L1149.7 871.6L1152.7 869.8L1155.7 867.9L1158.7 866.1L1161.7 864.3L1164.7 862.5L1167.7 860.6L1170.7 858.8L1173.7 857.0L1176.7 855.2L1179.7 853.4L1182.7 851.5L1185.7 849.7L1188.8 847.9L1191.8 846.1L1194.8 844.3L1197.8 842.4L1200.8 840.6L1203.8 838.8L1206.8 837.0L1209.8 835.2L1212.8 833.4L1215.8 831.6L1218.8 829.8L1221.8 828.0L1224.8 826.2L1227.8 824.5L1230.8 822.7L1233.8 820.9L1236.8 819.1L1239.8 817.4L1242.8 815.6L1245.8 813.8L1248.8 812.1L1251.8 810.3L1254.9 808.5L1257.9 806.8L1260.9 805.0L1263.9 803.3L1266.9 801.5L1269.9 799.8L1272.9 798.0L1275.9 796.3L1278.9 794.6L1281.9 792.8L1284.9 791.1L1287.9 789.4L1290.9 787.7L1293.9 786.0L1296.9 784.3L1299.9 782.6L1302.9 780.9L1305.9 779.3L1308.9 777.6L1311.9 775.9L1314.9 774.3L1317.9 772.6L1321.0 771.0L1324.0 769.4L1327.0 767.7L1330.0 766.1L1333.0 764.5L1336.0 762.9L1339.0 761.3L1342.0 759.7L1345.0 758.1L1348.0 756.5L1351.0 754.9L1354.0 753.3L1357.0 751.8L1360.0 750.2L1363.0 748.7L1366.0 747.1L1369.0 745.6L1372.0 744.0L1375.0 742.5L1378.0 741.0L1381.0 739.5L1384.0 738.0L1387.1 736.5L1390.1 735.0L1393.1 733.5L1396.1 732.0L1399.1 730.6L1402.1 729.1L1405.1 727.7L1408.1 726.2L1411.1 724.8L1414.1 723.4L1417.1 722.0L1420.1 720.6L1423.1 719.2L1426.1 717.8L1429.1 716.5L1432.1 715.1L1435.1 713.8L1438.1 712.4L1441.1 711.1L1444.1 709.8L1447.1 708.4L1450.2 707.1L1453.2 705.8L1456.2 704.5L1459.2 703.2L1462.2 701.9L1465.2 700.7L1468.2 699.4L1471.2 698.1L1474.2 696.9L1477.2 695.7L1480.2 694.4L1483.2 693.2L1486.2 692.0L1489.2 690.8L1492.2 689.5L1495.2 688.3L1498.2 687.2L1501.2 686.0L1504.2 684.8L1507.2 683.6L1510.2 682.4L1513.2 681.3L1516.3 680.1L1519.3 679.0L1522.3 677.9L1525.3 676.8L1528.3 675.6L1531.3 674.5L1534.3 673.4L1537.3 672.4L1540.3 671.3L1543.3 670.2L1546.3 669.1L1549.3 668.0L1552.3 667.0L1555.3 665.9L1558.3 664.9L1561.3 663.8L1564.3 662.7L1567.3 661.7L1570.3 660.6L1573.3 659.6L1576.3 658.5L1579.3 657.4L1582.4 656.4L1585.4 655.3L1588.4 654.2L1591.4 653.1L1594.4 652.0L1597.4 650.9L1600.4 649.8L1603.4 648.7L1606.4 647.6L1609.4 646.5L1612.4 645.4L1615.4 644.2L1618.4 643.1L1621.4 641.9L1624.4 640.8L1627.4 639.6L1630.4 638.4L1633.4 637.3L1636.4 636.1L1639.4 634.9L1642.4 633.7L1645.4 632.6L1648.5 631.4L1651.5 630.2L1654.5 629.0L1657.5 627.8L1660.5 626.5L1663.5 625.3L1666.5 624.1L1669.5 622.9L1672.5 621.7L1675.5 620.4L1678.5 619.2L1681.5 617.9L1684.5 616.7L1687.5 615.5L1690.5 614.2L1693.5 613.0L1696.5 611.7L1699.5 610.4L1702.5 609.2L1705.5 607.9L1708.5 606.6L1711.5 605.3L1714.6 604.0L1717.6 602.7L1720.6 601.4L1723.6 600.1L1726.6 598.8L1729.6 597.5L1732.6 596.1L1735.6 594.8L1738.6 593.5L1741.6 592.1L1744.6 590.8L1747.6 589.5L1750.6 588.1L1753.6 586.8L1756.6 585.5L1759.6 584.2L1762.6 582.9L1765.6 581.5L1768.6 580.2L1771.6 578.9L1774.6 577.7L1777.6 576.4L1780.7 575.1L1783.7 573.9L1786.7 572.6L1789.7 571.4L1792.7 570.2L1795.7 569.0L1798.7 567.8L1801.7 566.7L1804.7 565.5L1807.7 564.3L1810.7 563.1L1813.7 562.0L1816.7 560.8L1819.7 559.6L1822.7 558.5L1825.7 557.3L1828.7 556.2L1831.7 555.1L1834.7 554.0L1837.7 552.9L1840.7 551.8L1843.7 550.8L1846.8 549.7L1849.8 548.7L1852.8 547.7L1855.8 546.7L1858.8 545.8L1861.8 544.9L1864.8 544.0L1867.8 543.1L1870.8 542.3L1873.8 541.5L1876.8 540.7L1879.8 540.0L1882.8 539.3L1885.8 538.7L1888.8 538.1L1891.8 537.6L1894.8 537.0L1897.8 536.6L1900.8 536.1L1903.8 535.7L1906.8 535.3L1909.8 534.9L1912.9 534.5L1915.9 534.2L1918.9 533.9L1921.9 533.6L1924.9 533.4L1927.9 533.3L1930.9 533.2L1933.9 533.1L1936.9 533.1L1939.9 533.1L1942.9 533.1L1945.9 533.2L1948.9 533.3L1951.9 533.4L1954.9 533.6L1957.9 533.7L1960.9 533.9L1963.9 534.2L1966.9 534.4L1969.9 534.7L1972.9 535.0L1976.0 535.3L1979.0 535.6L1982.0 536.0L1985.0 536.4L1988.0 536.7L1991.0 537.1L1994.0 537.6L1997.0 538.0L2000.0 538.6L2003.0 539.1L2006.0 539.7L2009.0 540.3L2012.0 541.0L2015.0 541.7L2018.0 542.4L2021.0 543.2L2024.0 544.0L2027.0 544.8L2030.0 545.7L2033.0 546.6L2036.0 547.5L2039.0 548.4L2042.1 549.4L2045.1 550.4L2048.1 551.4L2051.1 552.4L2054.1 553.5L2057.1 554.6L2060.1 555.7L2063.1 556.8L2066.1 557.9L2069.1 559.0L2072.1 560.2L2075.1 561.3L2078.1 562.5L2081.1 563.7L2084.1 564.8L2087.1 566.0L2090.1 567.2L2093.1 568.5L2096.1 569.8L2099.1 571.1L2102.1 572.4L2105.1 573.8L2108.2 575.2L2111.2 576.6L2114.2 578.0L2117.2 579.5L2120.2 580.9L2123.2 582.4L2126.2 583.9L2129.2 585.4L2132.2 586.9L2135.2 588.4L2138.2 589.9L2141.2 591.4L2144.2 592.9L2147.2 594.4L2150.2 595.8L2153.2 597.3L2156.2 598.8L2159.2 600.2L2162.2 601.7L2165.2 603.1L2168.2 604.5L2171.2 605.8L2174.3 607.2L2177.3 608.5L2180.3 609.8L2183.3 611.1L2186.3 612.3L2189.3 613.5L2192.3 614.7L2195.3 615.9L2198.3 617.1L2201.3 618.3L2204.3 619.4L2207.3 620.5L2210.3 621.7L2213.3 622.8L2216.3 623.9L2219.3 625.0L2222.3 626.0L2225.3 627.1L2228.3 628.2L2231.3 629.3L2234.3 630.3L2237.3 631.4L2240.4 632.4L2243.4 633.5L2246.4 634.5L2249.4 635.6L2252.4 636.6L2255.4 637.7L2258.4 638.7"/>
<path stroke="#7030a0" stroke-dasharray="24.7 33.7" stroke-dashoffset="0.0" d="M365.5 1088.0L368.5 1086.4L371.5 1084.8L374.5 1083.2L377.5 1081.6L380.5 1080.0L383.5 1078.4L386.5 1076.8L389.5 1075.2L392.5 1073.6L395.5 1072.0L398.6 1070.3L401.6 1068.7L404.6 1067.0L407.6 1065.4L410.6 1063.7L413.6 1062.1L416.6 1060.4L419.6 1058.7L422.6 1057.0L425.6 1055.3L428.6 1053.6L431.6 1051.9L434.6 1050.2L437.6 1048.5L440.6 1046.7L443.6 1045.0L446.6 1043.3L449.6 1041.5L452.6 1039.7L455.6 1038.0L458.6 1036.2L461.6 1034.4L464.7 1032.6L467.7 1030.7L470.7 1028.9L473.7 1027.0L476.7 1025.2L479.7 1023.3L482.7 1021.4L485.7 1019.5L488.7 1017.6L491.7 1015.7L494.7 1013.8L497.7 1011.8L500.7 1009.9L503.7 1007.9L506.7 1006.0L509.7 1004.0L512.7 1002.1L515.7 1000.1L518.7 998.2L521.7 996.2L524.7 994.2L527.7 992.3L530.8 990.3L533.8 988.3L536.8 986.4L539.8 984.4L542.8 982.5L545.8 980.5L548.8 978.6L551.8 976.6L554.8 974.7L557.8 972.8L560.8 970.9L563.8 969.0L566.8 967.0L569.8 965.1L572.8 963.2L575.8 961.3L578.8 959.3L581.8 957.4L584.8 955.5L587.8 953.6L590.8 951.7L593.8 949.8L596.9 947.9L599.9 946.0L602.9 944.2L605.9 942.3L608.9 940.5L611.9 938.6L614.9 936.8L617.9 935.0L620.9 933.2L623.9 931.5L626.9 929.7L629.9 928.0L632.9 926.3L635.9 924.6L638.9 922.9L641.9 921.3L644.9 919.7L647.9 918.1L650.9 916.5L653.9 915.0L656.9 913.4L659.9 912.0L663.0 910.5L666.0 909.0L669.0 907.6L672.0 906.2L675.0 904.8L678.0 903.4L681.0 902.1L684.0 900.8L687.0 899.5L690.0 898.2L693.0 896.9L696.0 895.7L699.0 894.5L702.0 893.4L705.0 892.2L708.0 891.0L711.0 889.9L714.0 888.7L717.0 887.6L720.0 886.5L723.0 885.5L726.0 884.4L729.1 883.4L732.1 882.5L735.1 881.6L738.1 880.8L741.1 880.0L744.1 879.2L747.1 878.6L750.1 878.0L753.1 877.4L756.1 876.8L759.1 876.3L762.1 875.8L765.1 875.3L768.1 874.9L771.1 874.5L774.1 874.1L777.1 873.8L780.1 873.5L783.1 873.2L786.1 873.0L789.1 872.9L792.1 872.8L795.2 872.7L798.2 872.7L801.2 872.7L804.2 872.8L807.2 872.9L810.2 873.0L813.2 873.2L816.2 873.3L819.2 873.5L822.2 873.7L825.2 874.0L828.2 874.2L831.2 874.4L834.2 874.7L837.2 875.0L840.2 875.2L843.2 875.5L846.2 875.7L849.2 876.0L852.2 876.3L855.2 876.6L858.2 877.0L861.3 877.3L864.3 877.6L867.3 878.0L870.3 878.3L873.3 878.6L876.3 879.0L879.3 879.3L882.3 879.6L885.3 879.9L888.3 880.2L891.3 880.4L894.3 880.6L897.3 880.8L900.3 881.0L903.3 881.1L906.3 881.3L909.3 881.3L912.3 881.3L915.3 881.3L918.3 881.2L921.3 881.1L924.4 880.9L927.4 880.6L930.4 880.2L933.4 879.7L936.4 879.1L939.4 878.4L942.4 877.5L945.4 876.2L948.4 874.7L951.4 873.1L954.4 871.4L957.4 869.7L960.4 868.1L963.4 866.7L966.4 865.3L969.4 863.9L972.4 862.5L975.4 861.0L978.4 859.4L981.4 857.8L984.4 856.1L987.4 854.3L990.5 852.5L993.5 850.6L996.5 848.7L999.5 846.7L1002.5 844.7L1005.5 842.6L1008.5 840.5L1011.5 838.5L1014.5 836.3L1017.5 834.2L1020.5 832.1L1023.5 830.0L1026.5 827.9L1029.5 825.8L1032.5 823.7L1035.5 821.6L1038.5 819.6L1041.5 817.6L1044.5 815.5L1047.5 813.5L1050.5 811.5L1053.5 809.5L1056.6 807.5L1059.6 805.5L1062.6 803.5L1065.6 801.5L1068.6 799.6L1071.6 797.6L1074.6 795.6L1077.6 793.7L1080.6 791.7L1083.6 789.8L1086.6 787.8L1089.6 785.9L1092.6 783.9L1095.6 782.0L1098.6 780.0L1101.6 778.1L1104.6 776.2L1107.6 774.2L1110.6 772.3L1113.6 770.4L1116.6 768.4L1119.6 766.5L1122.7 764.5L1125.7 762.6L1128.7 760.7L1131.7 758.7L1134.7 756.8L1137.7 754.8L1140.7 752.9L1143.7 750.9L1146.7 749.0L1149.7 747.0L1152.7 745.0L1155.7 743.1L1158.7 741.1L1161.7 739.2L1164.7 737.2L1167.7 735.2L1170.7 733.3L1173.7 731.3L1176.7 729.3L1179.7 727.4L1182.7 725.4L1185.7 723.4L1188.8 721.5L1191.8 719.5L1194.8 717.5L1197.8 715.6L1200.8 713.6L1203.8 711.6L1206.8 709.7L1209.8 707.7L1212.8 705.8L1215.8 703.8L1218.8 701.9L1221.8 699.9L1224.8 698.0L1227.8 696.1L1230.8 694.1L1233.8 692.2L1236.8 690.3L1239.8 688.3L1242.8 686.4L1245.8 684.5L1248.8 682.6L1251.8 680.6L1254.9 678.7L1257.9 676.8L1260.9 674.9L1263.9 673.0L1266.9 671.1L1269.9 669.2L1272.9 667.3L1275.9 665.4L1278.9 663.5L1281.9 661.6L1284.9 659.7L1287.9 657.9L1290.9 656.0L1293.9 654.1L1296.9 652.2L1299.9 650.4L1302.9 648.5L1305.9 646.7L1308.9 644.8L1311.9 643.0L1314.9 641.2L1317.9 639.3L1321.0 637.5L1324.0 635.7L1327.0 633.9L1330.0 632.1L1333.0 630.3L1336.0 628.5L1339.0 626.7L1342.0 625.0L1345.0 623.2L1348.0 621.4L1351.0 619.7L1354.0 617.9L1357.0 616.1L1360.0 614.4L1363.0 612.6L1366.0 610.9L1369.0 609.1L1372.0 607.4L1375.0 605.7L1378.0 603.9L1381.0 602.2L1384.0 600.4L1387.1 598.7L1390.1 596.9L1393.1 595.2L1396.1 593.4L1399.1 591.7L1402.1 589.9L1405.1 588.2L1408.1 586.4L1411.1 584.6L1414.1 582.9L1417.1 581.1L1420.1 579.3L1423.1 577.5L1426.1 575.8L1429.1 574.0L1432.1 572.2L1435.1 570.4L1438.1 568.6L1441.1 566.8L1444.1 565.0L1447.1 563.2L1450.2 561.4L1453.2 559.5L1456.2 557.7L1459.2 555.9L1462.2 554.1L1465.2 552.3L1468.2 550.5L1471.2 548.7L1474.2 546.9L1477.2 545.2L1480.2 543.4L1483.2 541.6L1486.2 539.8L1489.2 538.1L1492.2 536.3L1495.2 534.5L1498.2 532.8L1501.2 531.1L1504.2 529.3L1507.2 527.6L1510.2 525.9L1513.2 524.2L1516.3 522.5L1519.3 520.8L1522.3 519.1L1525.3 517.5L1528.3 515.8L1531.3 514.1L1534.3 512.5L1537.3 510.8L1540.3 509.2L1543.3 507.5L1546.3 505.9L1549.3 504.3L1552.3 502.7L1555.3 501.1L1558.3 499.5L1561.3 497.9L1564.3 496.3L1567.3 494.7L1570.3 493.1L1573.3 491.5L1576.3 490.0L1579.3 488.4L1582.4 486.9L1585.4 485.3L1588.4 483.8L1591.4 482.3L1594.4 480.7L1597.4 479.2L1600.4 477.7L1603.4 476.2L1606.4 474.7L1609.4 473.3L1612.4 471.8L1615.4 470.3L1618.4 468.8L1621.4 467.4L1624.4 465.9L1627.4 464.5L1630.4 463.0L1633.4 461.6L1636.4 460.2L1639.4 458.7L1642.4 457.3L1645.4 455.9L1648.5 454.5L1651.5 453.1L1654.5 451.7L1657.5 450.3L1660.5 448.9L1663.5 447.6L1666.5 446.2L1669.5 444.9L1672.5 443.5L1675.5 442.2L1678.5 440.9L1681.5 439.6L1684.5 438.3L1687.5 437.0L1690.5 435.7L1693.5 434.5L1696.5 433.2L1699.5 432.0L1702.5 430.8L1705.5 429.5L1708.5 428.3L1711.5 427.1L1714.6 425.9L1717.6 424.8L1720.6 423.6L1723.6 422.4L1726.6 421.3L1729.6 420.1L1732.6 419.0L1735.6 417.9L1738.6 416.7L1741.6 415.6L1744.6 414.5L1747.6 413.4L1750.6 412.4L1753.6 411.3L1756.6 410.2L1759.6 409.2L1762.6 408.1L1765.6 407.1L1768.6 406.1L1771.6 405.0L1774.6 404.0L1777.6 403.0L1780.7 402.1L1783.7 401.1L1786.7 400.1L1789.7 399.2L1792.7 398.2L1795.7 397.3L1798.7 396.4L1801.7 395.4L1804.7 394.5L1807.7 393.6L1810.7 392.7L1813.7 391.8L1816.7 390.9L1819.7 390.1L1822.7 389.2L1825.7 388.3L1828.7 387.5L1831.7 386.6L1834.7 385.8L1837.7 385.0L1840.7 384.1L1843.7 383.3L1846.8 382.5L1849.8 381.7L1852.8 381.0L1855.8 380.2L1858.8 379.4L1861.8 378.7L1864.8 377.9L1867.8 377.2L1870.8 376.5L1873.8 375.7L1876.8 375.0L1879.8 374.3L1882.8 373.7L1885.8 373.0L1888.8 372.3L1891.8 371.7L1894.8 371.1L1897.8 370.4L1900.8 369.8L1903.8 369.2L1906.8 368.6L1909.8 368.0L1912.9 367.4L1915.9 366.9L1918.9 366.3L1921.9 365.7L1924.9 365.2L1927.9 364.6L1930.9 364.1L1933.9 363.6L1936.9 363.0L1939.9 362.5L1942.9 362.0L1945.9 361.5L1948.9 361.0L1951.9 360.6L1954.9 360.1L1957.9 359.6L1960.9 359.2L1963.9 358.7L1966.9 358.3L1969.9 357.8L1972.9 357.4L1976.0 357.0L1979.0 356.6L1982.0 356.2L1985.0 355.8L1988.0 355.4L1991.0 355.1L1994.0 354.7L1997.0 354.3L2000.0 354.0L2003.0 353.6L2006.0 353.3L2009.0 353.0L2012.0 352.6L2015.0 352.3L2018.0 352.0L2021.0 351.7L2024.0 351.4L2027.0 351.1L2030.0 350.8L2033.0 350.5L2036.0 350.2L2039.0 349.9L2042.1 349.6L2045.1 349.4L2048.1 349.1L2051.1 348.8L2054.1 348.6L2057.1 348.3L2060.1 348.1L2063.1 347.8L2066.1 347.6L2069.1 347.4L2072.1 347.1L2075.1 346.9L2078.1 346.7L2081.1 346.5L2084.1 346.3L2087.1 346.0L2090.1 345.8L2093.1 345.6L2096.1 345.4L2099.1 345.2L2102.1 345.0L2105.1 344.8L2108.2 344.6L2111.2 344.4L2114.2 344.2L2117.2 344.0L2120.2 343.8L2123.2 343.7L2126.2 343.5L2129.2 343.3L2132.2 343.1L2135.2 343.0L2138.2 342.8L2141.2 342.6L2144.2 342.5L2147.2 342.3L2150.2 342.2L2153.2 342.1L2156.2 341.9L2159.2 341.8L2162.2 341.7L2165.2 341.6L2168.2 341.5L2171.2 341.4L2174.3 341.3L2177.3 341.2L2180.3 341.1L2183.3 341.1L2186.3 341.0L2189.3 340.9L2192.3 340.9L2195.3 340.8L2198.3 340.8L2201.3 340.7L2204.3 340.7L2207.3 340.7L2210.3 340.6L2213.3 340.6L2216.3 340.5L2219.3 340.5L2222.3 340.5L2225.3 340.5L2228.3 340.4L2231.3 340.4L2234.3 340.4L2237.3 340.4L2240.4 340.4L2243.4 340.3L2246.4 340.3L2249.4 340.3L2252.4 340.3L2255.4 340.3L2258.4 340.3"/>
<path stroke="#000000" stroke-dasharray="16.1 17.29" stroke-dashoffset="0.0" d="M365.5 1106.2L368.5 1104.6L371.5 1103.1L374.5 1101.5L377.5 1100.0L380.5 1098.4L383.5 1096.8L386.5 1095.2L389.5 1093.6L392.5 1092.0L395.5 1090.4L398.5 1088.8L401.5 1087.2L404.5 1085.6L407.5 1084.0L410.5 1082.3L413.5 1080.7L416.5 1079.0L419.5 1077.4L422.5 1075.7L425.5 1074.0L428.5 1072.4L431.5 1070.7L434.5 1069.0L437.5 1067.3L440.5 1065.5L443.5 1063.8L446.5 1062.1L449.5 1060.3L452.5 1058.6L455.5 1056.8L458.5 1055.0L461.6 1053.2L464.6 1051.4L467.6 1049.6L470.6 1047.8L473.6 1045.9L476.6 1044.1L479.6 1042.2L482.6 1040.3L485.6 1038.4L488.6 1036.5L491.6 1034.5L494.6 1032.6L497.6 1030.7L500.6 1028.7L503.6 1026.8L506.6 1024.8L509.6 1022.8L512.6 1020.9L515.6 1018.9L518.6 1016.9L521.6 1015.0L524.6 1013.0L527.6 1011.0L530.6 1009.1L533.6 1007.1L536.6 1005.1L539.6 1003.2L542.6 1001.2L545.6 999.3L548.6 997.4L551.6 995.4L554.6 993.5L557.6 991.6L560.6 989.7L563.6 987.8L566.6 985.9L569.6 984.0L572.6 982.1L575.6 980.2L578.6 978.4L581.6 976.5L584.6 974.6L587.6 972.7L590.6 970.9L593.6 969.0L596.6 967.1L599.6 965.3L602.6 963.5L605.6 961.6L608.6 959.8L611.6 958.0L614.6 956.3L617.6 954.5L620.6 952.7L623.6 951.0L626.6 949.2L629.6 947.5L632.6 945.8L635.6 944.2L638.6 942.5L641.6 940.9L644.6 939.2L647.6 937.6L650.6 936.1L653.7 934.5L656.7 933.0L659.7 931.4L662.7 929.9L665.7 928.4L668.7 926.9L671.7 925.5L674.7 924.1L677.7 922.6L680.7 921.3L683.7 919.9L686.7 918.5L689.7 917.2L692.7 916.0L695.7 914.7L698.7 913.5L701.7 912.3L704.7 911.1L707.7 909.9L710.7 908.7L713.7 907.6L716.7 906.5L719.7 905.4L722.7 904.3L725.7 903.3L728.7 902.3L731.7 901.4L734.7 900.5L737.7 899.6L740.7 898.8L743.7 898.1L746.7 897.4L749.7 896.8L752.7 896.3L755.7 895.7L758.7 895.2L761.7 894.7L764.7 894.2L767.7 893.8L770.7 893.4L773.7 893.1L776.7 892.7L779.7 892.4L782.7 892.2L785.7 892.0L788.7 891.8L791.7 891.7L794.7 891.6L797.7 891.6L800.7 891.6L803.7 891.6L806.7 891.7L809.7 891.7L812.7 891.8L815.7 891.9L818.7 892.1L821.7 892.2L824.7 892.4L827.7 892.6L830.7 892.8L833.7 893.0L836.7 893.2L839.7 893.5L842.7 893.7L845.8 894.0L848.8 894.3L851.8 894.7L854.8 895.1L857.8 895.5L860.8 895.9L863.8 896.3L866.8 896.7L869.8 897.1L872.8 897.5L875.8 897.8L878.8 898.1L881.8 898.3L884.8 898.5L887.8 898.6L890.8 898.8L893.8 898.9L896.8 898.9L899.8 899.0L902.8 899.0L905.8 899.0L908.8 899.0L911.8 899.0L914.8 898.9L917.8 898.8L920.8 898.7L923.8 898.4L926.8 898.0L929.8 897.6L932.8 897.0L935.8 896.4L938.8 895.6L941.8 894.8L944.8 894.0L947.8 893.0L950.8 892.1L953.8 891.0L956.8 889.8L959.8 888.5L962.8 887.1L965.8 885.6L968.8 884.0L971.8 882.3L974.8 880.7L977.8 879.0L980.8 877.3L983.8 875.6L986.8 873.9L989.8 872.2L992.8 870.4L995.8 868.6L998.8 866.7L1001.8 864.9L1004.8 863.0L1007.8 861.1L1010.8 859.1L1013.8 857.1L1016.8 855.0L1019.8 852.9L1022.8 850.8L1025.8 848.7L1028.8 846.6L1031.8 844.5L1034.9 842.4L1037.9 840.3L1040.9 838.3L1043.9 836.3L1046.9 834.2L1049.9 832.2L1052.9 830.2L1055.9 828.2L1058.9 826.2L1061.9 824.2L1064.9 822.2L1067.9 820.3L1070.9 818.3L1073.9 816.4L1076.9 814.4L1079.9 812.5L1082.9 810.5L1085.9 808.6L1088.9 806.7L1091.9 804.8L1094.9 802.8L1097.9 800.9L1100.9 799.0L1103.9 797.1L1106.9 795.2L1109.9 793.3L1112.9 791.4L1115.9 789.5L1118.9 787.5L1121.9 785.6L1124.9 783.7L1127.9 781.8L1130.9 779.9L1133.9 778.0L1136.9 776.1L1139.9 774.2L1142.9 772.3L1145.9 770.4L1148.9 768.5L1151.9 766.6L1154.9 764.7L1157.9 762.8L1160.9 760.9L1163.9 759.0L1166.9 757.1L1169.9 755.1L1172.9 753.2L1175.9 751.3L1178.9 749.4L1181.9 747.5L1184.9 745.6L1187.9 743.7L1190.9 741.8L1193.9 739.9L1196.9 738.0L1199.9 736.1L1202.9 734.2L1205.9 732.3L1208.9 730.3L1211.9 728.4L1214.9 726.5L1217.9 724.6L1220.9 722.7L1223.9 720.7L1227.0 718.8L1230.0 716.9L1233.0 715.0L1236.0 713.0L1239.0 711.1L1242.0 709.2L1245.0 707.2L1248.0 705.3L1251.0 703.4L1254.0 701.4L1257.0 699.5L1260.0 697.6L1263.0 695.6L1266.0 693.7L1269.0 691.7L1272.0 689.8L1275.0 687.9L1278.0 685.9L1281.0 684.0L1284.0 682.1L1287.0 680.1L1290.0 678.2L1293.0 676.3L1296.0 674.4L1299.0 672.5L1302.0 670.5L1305.0 668.6L1308.0 666.7L1311.0 664.8L1314.0 662.9L1317.0 661.0L1320.0 659.1L1323.0 657.3L1326.0 655.4L1329.0 653.5L1332.0 651.6L1335.0 649.8L1338.0 647.9L1341.0 646.0L1344.0 644.2L1347.0 642.3L1350.0 640.5L1353.0 638.6L1356.0 636.8L1359.0 634.9L1362.0 633.1L1365.0 631.2L1368.0 629.4L1371.0 627.6L1374.0 625.7L1377.0 623.9L1380.0 622.1L1383.0 620.3L1386.0 618.5L1389.0 616.7L1392.0 614.9L1395.0 613.1L1398.0 611.3L1401.0 609.5L1404.0 607.7L1407.0 605.9L1410.0 604.2L1413.0 602.4L1416.0 600.6L1419.1 598.9L1422.1 597.1L1425.1 595.3L1428.1 593.6L1431.1 591.8L1434.1 590.1L1437.1 588.4L1440.1 586.6L1443.1 584.9L1446.1 583.2L1449.1 581.5L1452.1 579.7L1455.1 578.0L1458.1 576.3L1461.1 574.6L1464.1 572.9L1467.1 571.2L1470.1 569.5L1473.1 567.8L1476.1 566.1L1479.1 564.4L1482.1 562.7L1485.1 561.0L1488.1 559.3L1491.1 557.7L1494.1 556.0L1497.1 554.3L1500.1 552.6L1503.1 550.9L1506.1 549.3L1509.1 547.6L1512.1 545.9L1515.1 544.3L1518.1 542.6L1521.1 540.9L1524.1 539.3L1527.1 537.6L1530.1 535.9L1533.1 534.3L1536.1 532.6L1539.1 530.9L1542.1 529.3L1545.1 527.6L1548.1 526.0L1551.1 524.3L1554.1 522.7L1557.1 521.1L1560.1 519.4L1563.1 517.8L1566.1 516.2L1569.1 514.6L1572.1 513.0L1575.1 511.4L1578.1 509.8L1581.1 508.2L1584.1 506.6L1587.1 505.0L1590.1 503.5L1593.1 501.9L1596.1 500.4L1599.1 498.9L1602.1 497.4L1605.1 495.9L1608.1 494.4L1611.2 492.9L1614.2 491.4L1617.2 490.0L1620.2 488.5L1623.2 487.1L1626.2 485.6L1629.2 484.2L1632.2 482.8L1635.2 481.4L1638.2 479.9L1641.2 478.5L1644.2 477.2L1647.2 475.8L1650.2 474.4L1653.2 473.0L1656.2 471.7L1659.2 470.3L1662.2 469.0L1665.2 467.6L1668.2 466.3L1671.2 465.0L1674.2 463.6L1677.2 462.3L1680.2 461.0L1683.2 459.7L1686.2 458.4L1689.2 457.1L1692.2 455.9L1695.2 454.6L1698.2 453.3L1701.2 452.0L1704.2 450.8L1707.2 449.5L1710.2 448.3L1713.2 447.0L1716.2 445.7L1719.2 444.5L1722.2 443.2L1725.2 442.0L1728.2 440.8L1731.2 439.5L1734.2 438.3L1737.2 437.1L1740.2 435.9L1743.2 434.6L1746.2 433.4L1749.2 432.3L1752.2 431.1L1755.2 429.9L1758.2 428.7L1761.2 427.6L1764.2 426.5L1767.2 425.3L1770.2 424.2L1773.2 423.1L1776.2 422.0L1779.2 421.0L1782.2 419.9L1785.2 418.9L1788.2 417.9L1791.2 416.9L1794.2 415.9L1797.2 414.9L1800.3 414.0L1803.3 413.0L1806.3 412.1L1809.3 411.2L1812.3 410.3L1815.3 409.4L1818.3 408.6L1821.3 407.7L1824.3 406.9L1827.3 406.0L1830.3 405.2L1833.3 404.4L1836.3 403.6L1839.3 402.8L1842.3 402.0L1845.3 401.2L1848.3 400.5L1851.3 399.7L1854.3 399.0L1857.3 398.3L1860.3 397.6L1863.3 396.9L1866.3 396.2L1869.3 395.5L1872.3 394.8L1875.3 394.1L1878.3 393.5L1881.3 392.8L1884.3 392.2L1887.3 391.6L1890.3 391.0L1893.3 390.4L1896.3 389.8L1899.3 389.2L1902.3 388.6L1905.3 388.0L1908.3 387.4L1911.3 386.9L1914.3 386.3L1917.3 385.8L1920.3 385.2L1923.3 384.7L1926.3 384.1L1929.3 383.6L1932.3 383.1L1935.3 382.6L1938.3 382.1L1941.3 381.6L1944.3 381.1L1947.3 380.6L1950.3 380.1L1953.3 379.6L1956.3 379.2L1959.3 378.7L1962.3 378.3L1965.3 377.8L1968.3 377.4L1971.3 376.9L1974.3 376.5L1977.3 376.1L1980.3 375.7L1983.3 375.3L1986.3 374.9L1989.3 374.5L1992.4 374.1L1995.4 373.7L1998.4 373.3L2001.4 372.9L2004.4 372.6L2007.4 372.2L2010.4 371.8L2013.4 371.5L2016.4 371.1L2019.4 370.8L2022.4 370.4L2025.4 370.1L2028.4 369.7L2031.4 369.4L2034.4 369.1L2037.4 368.8L2040.4 368.4L2043.4 368.1L2046.4 367.8L2049.4 367.5L2052.4 367.2L2055.4 367.0L2058.4 366.7L2061.4 366.4L2064.4 366.1L2067.4 365.9L2070.4 365.6L2073.4 365.4L2076.4 365.1L2079.4 364.9L2082.4 364.7L2085.4 364.5L2088.4 364.3L2091.4 364.0L2094.4 363.8L2097.4 363.7L2100.4 363.5L2103.4 363.3L2106.4 363.1L2109.4 362.9L2112.4 362.7L2115.4 362.6L2118.4 362.4L2121.4 362.2L2124.4 362.1L2127.4 361.9L2130.4 361.8L2133.4 361.6L2136.4 361.5L2139.4 361.3L2142.4 361.2L2145.4 361.1L2148.4 360.9L2151.4 360.8L2154.4 360.7L2157.4 360.6L2160.4 360.4L2163.4 360.3L2166.4 360.2L2169.4 360.1L2172.4 360.0L2175.4 359.9L2178.4 359.8L2181.4 359.7L2184.5 359.6L2187.5 359.5L2190.5 359.4L2193.5 359.4L2196.5 359.3L2199.5 359.2L2202.5 359.1L2205.5 359.0L2208.5 358.9L2211.5 358.9L2214.5 358.8L2217.5 358.7L2220.5 358.6L2223.5 358.5L2226.5 358.5L2229.5 358.4L2232.5 358.3L2235.5 358.3L2238.5 358.2L2241.5 358.1L2244.5 358.1L2247.5 358.0L2250.5 358.0L2253.5 357.9L2256.5 357.8L2259.5 357.8L2262.5 357.7L2265.5 357.7L2268.5 357.6L2271.5 357.6L2274.5 357.5L2277.5 357.5"/>
</g>
<rect x="1674.5" y="814" width="544.3" height="632.0" fill="#fff" stroke="#a6a6a6" stroke-width="6.5" stroke-linejoin="round"/>
<g fill="none" stroke-width="10.0" stroke-linecap="round">
<path stroke="#ff0000" d="M1766.5 867.2H1976.1"/>
<path stroke="#000000" d="M1766.5 972.4H1976.1"/>
<path stroke="#00b050" d="M1766.5 1077.6H1976.1"/>
<path stroke="#00b050" stroke-dasharray="24.7 33.7" d="M1766.5 1183.0H1976.1"/>
<path stroke="#7030a0" stroke-dasharray="24.7 33.7" d="M1766.5 1288.3H1976.1"/>
<path stroke="#000000" stroke-dasharray="16.1 17.29" d="M1766.5 1393.9H1976.1"/>
</g>
<text id="lg0" x="1999.5" y="887.7" font-size="69" textLength="136.5" lengthAdjust="spacingAndGlyphs">ML1</text>
<text id="lg1" x="1999.5" y="992.9" font-size="69" textLength="140.0" lengthAdjust="spacingAndGlyphs">ML2</text>
<text id="lg2" x="1999.5" y="1098.1" font-size="69" textLength="139.5" lengthAdjust="spacingAndGlyphs">ML3</text>
<text id="lg3" x="1999.5" y="1203.5" font-size="69" textLength="138.5" lengthAdjust="spacingAndGlyphs">ML4</text>
<text id="lg4" x="1999.5" y="1308.8" font-size="69" textLength="139.0" lengthAdjust="spacingAndGlyphs">ML5</text>
<text id="lg5" x="1999.5" y="1414.4" font-size="69" textLength="139.0" lengthAdjust="spacingAndGlyphs">ML6</text>
<text id="yl0" x="297.5" y="129.1" font-size="71.2" text-anchor="end" textLength="169.5" lengthAdjust="spacingAndGlyphs">10000</text>
<text id="yl1" x="297.5" y="497.5" font-size="71.2" text-anchor="end" textLength="136.5" lengthAdjust="spacingAndGlyphs">1000</text>
<text id="yl2" x="297.5" y="865.9" font-size="71.2" text-anchor="end" textLength="103.5" lengthAdjust="spacingAndGlyphs">100</text>
<text id="yl3" x="297.5" y="1234.2" font-size="71.2" text-anchor="end" textLength="69.5" lengthAdjust="spacingAndGlyphs">10</text>
<text id="yl4" x="297.5" y="1602.6" font-size="71.2" text-anchor="end">1</text>
<text id="xl0" x="365.5" y="1700.2" font-size="71.2" text-anchor="middle">0</text>
<text id="xl1" x="747.9" y="1700.2" font-size="71.2" text-anchor="middle" textLength="104.0" lengthAdjust="spacingAndGlyphs">100</text>
<text id="xl2" x="1130.3" y="1700.2" font-size="71.2" text-anchor="middle" textLength="104.0" lengthAdjust="spacingAndGlyphs">200</text>
<text id="xl3" x="1512.7" y="1700.2" font-size="71.2" text-anchor="middle" textLength="104.0" lengthAdjust="spacingAndGlyphs">300</text>
<text id="xl4" x="1895.1" y="1700.2" font-size="71.2" text-anchor="middle" textLength="104.0" lengthAdjust="spacingAndGlyphs">400</text>
<text id="xl5" x="2277.5" y="1700.2" font-size="71.2" text-anchor="middle" textLength="104.0" lengthAdjust="spacingAndGlyphs">500</text>
<text id="mult" x="371.3" y="79" font-size="71.2" textLength="103.5" lengthAdjust="spacingAndGlyphs">×10</text>
<text id="sup" x="473.5" y="59.3" font-size="45" textLength="22.5" lengthAdjust="spacingAndGlyphs">2</text>
<text id="xt" x="1320.3" y="1802" font-size="69.5" text-anchor="middle" textLength="454.5" lengthAdjust="spacingAndGlyphs">Arc Length (m)</text>
<text id="yt" transform="translate(85.7 845.9) rotate(-90)" font-size="69.5" text-anchor="middle" textLength="474.5" lengthAdjust="spacingAndGlyphs">Fatigue Life (yr)</text>
</svg></body></html>
